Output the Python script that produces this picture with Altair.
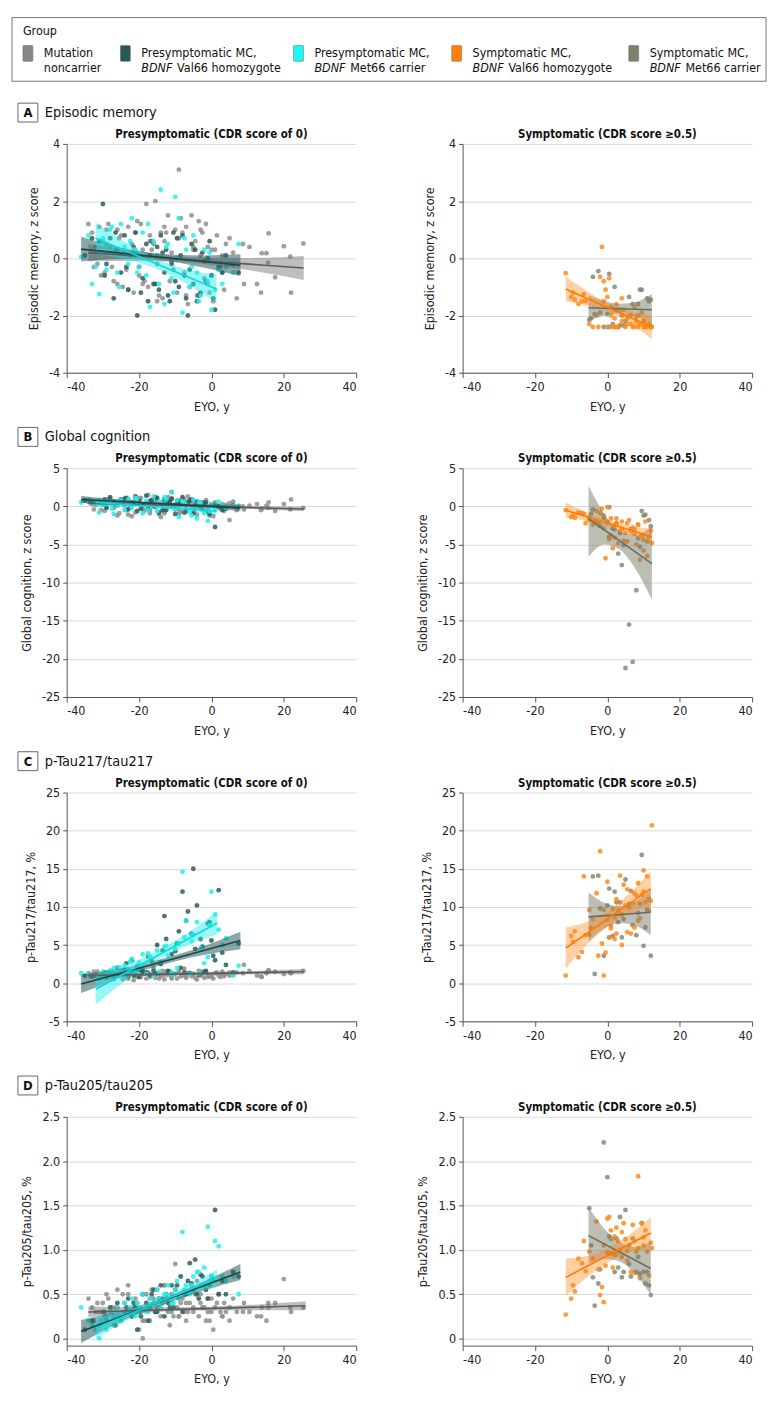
import altair as alt
import pandas as pd

FONT = "Liberation Sans Narrow, DejaVu Sans Condensed, Roboto Condensed, Arial Narrow, Roboto, sans-serif"

# ---------------- data: EYO (x) per group ----------------
NC_X = [-34, -33, -32.5, -31, -30, -29.5, -29, -28, -27, -26.5,
        -26, -25, -24, -23.5, -23, -22, -21.5, -21, -20, -19.5,
        -19, -18, -17.5, -17, -16, -15.5, -15, -14, -13.5, -13,
        -12, -11.5, -11, -10, -9.5, -9, -8, -7.5, -7, -6,
        -5.5, -5, -4, -3.5, -3, -2, -1.5, -1, 0, 0.5,
        1, 2, 3, 3.5, 4, 5, 6, 8.7, 9, 12.6,
        13.9, 15.2, 15.7, 13.7, 15.8, 17.6, 20, 21.8, 25.4, 22]
NC_X2 = [-32, -30.5, -28.5, -27.5, -25.5, -24.5, -22.5, -20.5, -18.5, -16.5,
         -14.5, -12.5, -10.5, -8.5, -6.5, -4.5, -2.5, -0.5, 1.5, 2.5,
         -31.5, -29, -26, -23, -21, -19, -17, -15, -13, -11,
         -9, -7, -5, -3, -1, 0, 3, 5, 7, 10.5]
VAL_X = [-35, -31, -30, -29, -28, -27, -26, -25, -24, -23,
         -22, -21, -20.5, -20, -19, -18, -17.5, -17, -16, -15,
         -14.5, -14, -13, -12.5, -12, -11, -10.5, -10, -9, -8.5,
         -8, -7, -6.5, -6, -5, -4.5, -4, -3, -2, -1,
         0, 1, 2, 3, 6]
VAL_X2 = [-33, -29.5, -26.5, -23.5, -21.5, -19.5, -16.5, -15.5, -13.5, -11.5,
          -9.5, -7.5, -5.5, -3.5, -2.5, -1.5, -0.5, 0.5, 4, 7.5]
MET_X = [-36, -33, -31, -30, -29, -28, -27, -26, -25, -24,
         -23, -22, -21, -20, -19, -18, -17, -16, -15, -14,
         -13, -12, -11, -10, -9.5, -9, -8, -7, -6, -5,
         -4, -3, -2, -1, 0, 1, 2, 4, 6, 7.5]
MET_X2 = [-34, -32, -27.5, -25.5, -22.5, -20.5, -17.5, -14.5, -12.5, -10.5, -7.5, -5.5, -3.5, -0.5, 3]
ORG_X = [-11.5, -10, -9, -8, -6.5, -6, -5, -3, -2.5, -2,
         -1.5, -1, -0.5, 0, 0, 0.5, 1, 1.5, 2, 2,
         2.5, 3, 3.5, 4, 4.5, 5, 5.5, 6, 6.5, 7,
         7.5, 8, 8.5, 9, 9.5, 10, 10.5, 11, 11.5, 12.3]
ORG_X2 = [-9.5, -7, -4, -1, 1, 2.5, 4, 5.5, 7.5, 8.5, 10, 12]
OLV_X = [-5, -4, -3.5, -2.5, -1, 0, 0.5, 1.5, 2, 3,
         3.5, 4, 5, 6, 7, 8, 9, 9.5, 10, 10.5, 11, 12]
OLV_X2 = [-4.5, -2, 0.5, 2.5, 4.5, 6.5, 8.5, 11.5]

# ---------------- A: episodic memory ----------------
A_NC = [1.2, 0.9, -0.3, 1.1, 0.6, -0.5, 1.0, 0.4, -0.8, 0.3,
        -0.9, 0.8, 0.2, -0.4, 1.1, 0.5, -1.2, 0.9, -0.6, 1.2,
        0.3, 1.9, -1.0, 0.8, 0.5, 2.0, -0.2, 0.9, -1.4, 0.6,
        1.5, -0.8, 0.2, 1.0, -1.2, 3.1, 0.9, -0.5, 1.1, -1.0,
        1.5, 0.3, -1.3, 1.3, 0.1, -0.7, 1.2, 0.4, -0.6, -1.5,
        0.3, -0.4, 0.1, -1.1, 0.5, -0.2, 0.2, 0.5, -0.9, -0.9,
        0.18, 0.18, -0.15, -1.2, 0.87, -0.66, 0.42, 0.06, 0.52, -1.2]
A_NC2 = [0.4, -0.6, 1.2, -0.3, 0.7, -1.0, 0.1, 1.3, -0.8, 0.3,
         -1.3, 0.9, -0.4, 1.4, -1.6, 0.6, 0.9, -1.2, 0.8, -0.3,
         -0.2, 0.5, 1.0, -1.1, 0.2, -0.9, 0.6, -1.5, 1.1, -0.1,
         0.7, -1.3, 0.4, 1.0, -0.9, 0.3, -0.5, 0.7, -1.4, 0.4]
A_VAL = [0.1, 0.6, 1.9, -0.2, 0.7, -1.4, 0.3, -0.5, 0.8, -1.1,
         0.2, 0.9, -2.0, -0.3, -0.7, 0.5, -1.5, 0.1, -0.9, 0.4,
         -1.1, 0.8, -0.5, 0.3, -1.3, -0.2, 0.9, -0.8, -1.0, 0.1,
         0.8, -1.4, -2.0, -0.4, -0.9, 0.3, -1.5, -1.2, -0.1, 0.0,
         -0.6, -1.8, -0.3, -0.5, -0.2]
A_VAL2 = [0.7, -0.6, 0.9, -0.3, 0.4, -1.2, 0.6, -0.9, 0.2, -1.5,
          0.7, -0.6, 0.5, -1.3, 0.2, -0.8, 0.6, -1.4, 0.1, -0.5]
A_MET = [0.05, -0.9, -1.25, 0.7, -0.4, 1.0, 0.2, -0.5, 1.2, 0.4,
         -0.2, 1.4, 0.3, -0.3, 0.9, -0.6, -1.7, 0.6, 0.1, 2.4,
         -1.6, 0.5, -0.7, 2.15, 0.0, 1.4, -1.9, 0.3, -1.0, 0.8,
         -0.5, -1.3, 0.3, -0.8, -1.8, -1.1, -0.4, -0.3, -0.5, 0.5]
A_MET2 = [0.8, -0.3, 1.1, -1.0, 0.6, -0.5, 1.2, -0.9, 0.4, -1.2, 0.7, -0.3, -1.5, 0.2, -0.9]
A_ORG = [-0.52, -1.35, -1.45, -1.6, -1.25, -1.5, -2.3, -2.0, -2.4, -0.65,
         0.4, -0.8, -1.1, -1.35, -2.4, -0.7, -1.7, -2.4, -2.1, -2.4,
         -1.6, -2.4, -1.8, -2.2, -1.8, -2.4, -2.1, -2.0, -2.3, -2.4,
         -1.7, -2.2, -2.4, -2.3, -1.9, -2.4, -2.35, -2.4, -2.3, -2.4]
A_ORG2 = [-1.2, -1.5, -2.4, -1.5, -2.0, -2.4, -1.4, -2.3, -2.4, -2.0, -2.2, -2.4]
A_OLV = [-2.15, -0.65, -1.95, -0.45, -2.4, -1.95, -0.55, -2.3, -1.0, -2.4,
         -2.35, -2.0, -2.2, -1.35, -1.6, -2.05, -1.1, -1.1, -2.2, -2.4, -1.4, -1.45]
A_OLV2 = [-2.1, -1.9, -2.4, -1.8, -2.35, -2.0, -1.6, -1.5]

# ---------------- B: global cognition ----------------
B_NC = [0.6, 0.3, -0.4, 0.8, 0.2, -0.6, 0.5, 1.0, -0.2, 0.4,
        -1.2, 0.7, 0.1, -0.5, 0.9, -1.3, 0.3, -0.8, 0.6, 1.1,
        -0.3, 0.2, 1.5, -0.9, 0.4, -0.1, 0.8, -1.4, 0.5, -0.6,
        1.2, 0.0, 1.9, -0.4, 0.7, -1.0, 0.3, 0.9, -0.7, 0.5,
        -0.2, 0.6, -1.1, 0.4, 0.1, -0.5, 0.8, -0.3, 0.2, -1.3,
        0.5, -0.1, 0.3, -0.6, 0.2, -1.8, 0.6, 0.0, -0.4, 0.3,
        -0.3, 0.1, -0.2, -0.5, 0.5, -0.6, 0.3, -0.4, -0.2, 0.9]
B_NC2 = [0.2, -0.5, 0.9, 0.4, -0.9, 0.6, -0.2, 1.1, -0.6, 0.3,
         -1.0, 0.7, 0.1, -0.7, 1.3, -0.4, 0.5, -1.2, 0.2, -0.3,
         0.7, -0.1, 0.4, -1.1, 0.9, 0.2, -0.5, 0.6, -0.9, 1.0,
         -0.4, 0.3, -0.8, 0.5, -0.6, 0.2, -0.3, 0.4, -0.5, 0.1]
B_VAL = [0.8, 0.5, 0.3, -0.2, 1.2, 0.6, 0.1, 0.9, 1.0, -0.4,
         0.5, 1.3, -0.6, 0.8, 0.2, 1.4, -0.3, 0.7, 0.0, 1.1,
         -0.8, 0.4, 0.9, -0.5, 0.6, 1.0, 0.2, -1.0, 0.7, 0.3,
         1.2, -0.4, 0.5, 0.8, -0.9, 0.1, 0.6, -0.2, 0.4, -0.7,
         0.3, -2.7, 0.0, -0.5, 0.1]
B_VAL2 = [0.6, 0.9, 0.2, 1.1, 0.4, -0.3, 0.8, 1.2, -0.5, 0.6,
          0.3, -0.8, 0.9, 0.1, -0.4, 0.5, -1.0, 0.2, -0.3, 0.0]
B_MET = [0.5, 0.3, -0.8, 0.2, 0.4, 0.6, -1.0, 0.1, 0.8, -0.5,
         0.9, -0.2, 1.1, 0.3, -0.9, 0.7, 0.2, 1.3, -0.6, 0.5,
         1.2, 0.0, 1.8, -0.3, 0.8, -1.4, 0.6, 0.2, -0.7, 0.9,
         -1.6, 0.4, -0.9, -1.9, 0.3, -0.5, 0.6, -0.2, 0.0, 0.1]
B_MET2 = [0.9, 0.4, -0.3, 0.8, 0.2, 1.0, -0.5, 0.6, 0.9, -0.2, 0.4, -1.2, 0.5, -0.6, 0.1]
B_ORG = [-0.5, -1.4, -1.5, -0.8, -1.0, -2.2, -1.8, -0.6, -2.4, -0.9,
         -0.3, -1.2, -6.8, -2.0, -0.1, -4.3, -1.6, -5.5, -2.5, -4.1,
         -2.3, -4.8, -3.2, -2.0, -4.5, -3.5, -2.2, -1.8, -3.3, -2.8,
         -3.0, -5.0, -2.4, -7.0, -3.8, -4.4, -2.0, -6.5, -4.0, -4.8]
B_ORG2 = [-1.2, -0.9, -2.4, -2.9, -3.8, -1.6, -3.0, -4.6, -3.6, -2.4, -5.8, -3.2]
B_OLV = [-1.5, -0.4, -2.0, -2.2, -1.5, -2.1, -0.1, -2.9, -3.0, -6.2,
         -3.5, -7.7, -21.2, -15.5, -20.4, -11.0, -5.3, -0.6, -1.2, -1.1, -4.6, -2.6]
B_OLV2 = [-1.0, -2.6, -4.0, -2.2, -5.1, -3.0, -4.2, -1.8]

# ---------------- C: p-Tau217/tau217 ----------------
C_NC = [1.3, 0.9, 1.5, 0.6, 1.1, 1.4, 0.8, 1.6, 0.5, 1.2,
        1.0, 1.7, 0.7, 1.3, 0.9, 1.5, 0.4, 1.1, 1.8, 0.8,
        1.2, 0.6, 1.4, 1.0, 2.0, 0.7, 1.3, 0.9, 1.6, 0.5,
        1.1, 1.4, 0.8, 1.2, 0.6, 1.5, 1.0, 1.9, 0.7, 1.3,
        0.9, 1.2, 0.5, 1.6, 1.0, 0.7, 1.4, 1.1, 0.8, 0.6,
        1.3, 1.0, 1.5, 0.9, 1.2, 1.4, 1.1, 1.3, 2.4, 1.0,
        0.8, 1.3, 1.6, 0.9, 1.7, 1.5, 1.2, 1.4, 1.6, 1.3]
C_NC2 = [1.1, 0.7, 1.4, 0.9, 1.2, 0.5, 1.6, 0.8, 1.3, 1.0,
         0.6, 1.5, 1.1, 0.9, 1.3, 0.7, 1.2, 1.0, 1.4, 0.8,
         1.5, 0.9, 1.2, 0.6, 1.0, 1.7, 0.8, 1.3, 1.1, 0.6,
         1.4, 0.9, 1.2, 1.5, 0.8, 1.1, 1.3, 1.0, 1.4, 1.6]
C_VAL = [1.0, 0.8, 1.2, 0.7, 1.5, 1.0, 2.0, 1.3, 1.8, 0.9,
         3.0, 1.2, 2.2, 0.8, 1.5, 1.4, 3.5, 1.1, 1.6, 5.0,
         1.3, 2.5, 8.8, 5.8, 1.6, 3.8, 1.2, 4.2, 6.8, 2.0,
         12.0, 8.2, 9.4, 1.3, 15.0, 4.5, 10.2, 5.8, 1.5, 7.8,
         5.6, 3.0, 12.2, 4.0, 1.4]
C_VAL2 = [0.9, 1.4, 1.1, 2.6, 1.0, 1.7, 2.9, 1.2, 4.3, 1.5,
          5.2, 1.4, 6.5, 1.1, 4.8, 1.6, 8.0, 3.6, 2.4, 5.2]
C_MET = [1.3, 1.0, 0.8, 1.5, 1.2, 1.6, 2.0, 1.1, 1.4, 2.3,
         1.8, 3.2, 1.5, 2.7, 3.8, 1.2, 3.5, 1.0, 4.3, 2.8,
         4.8, 3.6, 1.4, 4.5, 2.0, 5.2, 14.6, 8.2, 1.2, 6.4,
         8.0, 4.6, 2.6, 3.4, 12.0, 9.0, 7.0, 5.9, 1.0, 2.3]
C_MET2 = [1.2, 1.0, 1.6, 2.1, 2.8, 1.3, 3.9, 1.5, 4.9, 1.1, 6.0, 5.5, 1.3, 7.6, 5.0]
C_ORG = [1.0, 6.2, 6.8, 3.4, 14.0, 6.3, 9.6, 11.8, 3.6, 17.3,
         5.2, 1.0, 4.0, 13.3, 8.3, 6.0, 7.5, 9.7, 5.8, 8.6,
         6.5, 9.5, 14.1, 5.0, 12.9, 10.2, 12.3, 9.9, 6.5, 10.5,
         7.3, 11.5, 8.2, 8.5, 11.6, 14.8, 10.6, 14.0, 9.5, 20.7]
C_ORG2 = [5.4, 4.1, 8.4, 9.6, 7.2, 11.0, 9.0, 6.7, 11.8, 13.1, 12.0, 10.8]
C_OLV = [6.4, 14.0, 1.2, 14.1, 3.6, 10.2, 12.4, 6.2, 12.0, 8.0,
         10.6, 6.0, 13.6, 10.4, 7.6, 6.3, 10.4, 16.8, 4.9, 7.3, 9.6, 3.6]
C_OLV2 = [7.2, 9.8, 6.0, 10.6, 8.4, 12.1, 9.2, 11.0]

# ---------------- D: p-Tau205/tau205 ----------------
D_NC = [0.45, 0.35, 0.2, 0.3, 0.4, 0.25, 0.5, 0.3, 0.15, 0.35,
        0.55, 0.2, 0.4, 0.3, 0.6, 0.25, 0.35, 0.45, 0.1, 0.3,
        0.0, 0.5, 0.35, 0.2, 0.45, 0.3, 0.55, 0.25, 0.4, 0.6,
        0.3, 0.15, 0.5, 0.84, 0.35, 0.25, 0.45, 0.3, 0.2, 0.4,
        0.55, 0.3, 0.65, 0.25, 0.4, 0.35, 0.2, 0.45, 0.3, 0.1,
        0.35, 0.5, 0.25, 0.4, 0.3, 0.2, 0.45, 0.3, 0.4, 0.25,
        0.35, 0.2, 0.4, 0.25, 0.35, 0.4, 0.67, 0.35, 0.35, 0.3]
D_NC2 = [0.3, 0.2, 0.45, 0.35, 0.25, 0.5, 0.3, 0.4, 0.2, 0.55,
         0.35, 0.45, 0.25, 0.4, 0.3, 0.5, 0.35, 0.2, 0.4, 0.3,
         0.4, 0.25, 0.35, 0.5, 0.3, 0.2, 0.45, 0.35, 0.6, 0.3,
         0.25, 0.4, 0.35, 0.5, 0.3, 0.45, 0.25, 0.35, 0.3, 0.3]
D_VAL = [0.1, 0.15, 0.3, 0.2, 0.35, 0.25, 0.4, 0.2, 0.3, 0.45,
         0.25, 0.35, 0.1, 0.3, 0.5, 0.4, 0.2, 0.35, 0.55, 0.3,
         0.45, 0.6, 0.25, 0.5, 0.4, 0.6, 0.35, 0.55, 0.45, 0.7,
         0.3, 0.5, 0.65, 0.85, 0.55, 0.89, 0.5, 0.72, 0.6, 0.45,
         0.7, 1.45, 0.5, 0.65, 0.75]
D_VAL2 = [0.2, 0.3, 0.15, 0.35, 0.4, 0.25, 0.5, 0.3, 0.45, 0.35,
          0.6, 0.5, 0.62, 0.45, 0.7, 0.55, 0.6, 0.65, 0.5, 0.7]
D_MET = [0.35, 0.15, 0.0, 0.2, 0.1, 0.3, 0.25, 0.35, 0.2, 0.4,
         0.3, 0.45, 0.25, 0.35, 0.5, 0.3, 0.45, 0.4, 0.55, 0.35,
         0.5, 0.6, 0.4, 0.55, 0.65, 0.45, 1.2, 0.6, 0.5, 0.7,
         0.75, 0.6, 0.8, 1.26, 0.7, 1.1, 1.04, 0.65, 0.7, 0.5]
D_MET2 = [0.2, 0.1, 0.3, 0.25, 0.35, 0.4, 0.3, 0.45, 0.5, 0.4, 0.55, 0.6, 0.75, 0.65, 0.7]
D_ORG = [0.27, 0.45, 0.53, 0.9, 1.1, 0.76, 0.98, 1.32, 0.78, 0.49,
         0.58, 0.41, 0.82, 1.35, 0.97, 1.37, 1.22, 0.8, 1.15, 0.94,
         1.25, 1.1, 1.0, 0.92, 1.3, 1.12, 0.99, 1.05, 0.75, 1.28,
         0.74, 0.98, 1.83, 0.68, 1.3, 1.05, 1.22, 0.98, 0.71, 1.02]
D_ORG2 = [0.6, 0.85, 0.9, 1.05, 1.12, 0.95, 1.2, 0.88, 1.1, 1.02, 1.14, 1.08]
D_OLV = [1.47, 0.69, 0.37, 0.62, 2.21, 1.82, 1.15, 0.96, 0.75, 0.8,
         1.37, 0.69, 1.45, 0.84, 1.13, 0.75, 0.73, 1.3, 0.75, 0.62, 0.75, 0.49]
D_OLV2 = [1.05, 0.78, 0.96, 1.13, 0.75, 0.7, 0.92, 0.6]

# ---------------- fitted lines with 95% CI: (x, lower, upper, line y at both ends) ----------------
A_FIT_NC = ([-34, -19, -4, 11, 25.5], [-0.1, -0.09, -0.17, -0.43, -0.76], [0.5, 0.21, 0.03, 0.01, 0.08], [0.2, -0.34])
A_FIT_VAL = ([-36, -25, -14, -3, 8], [-0.11, -0.02, -0.08, -0.30, -0.62], [0.75, 0.38, 0.16, 0.10, 0.14], [0.32, -0.24])
A_FIT_MET = ([-32, -24, -15, -6, 1.4], [0.15, -0.02, -0.37, -0.95, -1.57], [1.25, 0.58, -0.03, -0.41, -0.57], [0.7, -1.07])
A_FIT_ORG = ([-11.5, -5.5, 0.5, 6.5, 12.3], [-1.5, -1.66, -1.89, -2.3, -2.82], [-0.64, -1.16, -1.59, -1.86, -1.98], [-1.07, -2.4])
A_FIT_OLV = ([-5.2, -0.8, 3.5, 7.9, 12.3], [-2.18, -2.0, -1.93, -2.03, -2.4], [-1.28, -1.5, -1.59, -1.53, -1.25], [-1.73, -1.8])

B_FIT_NC = ([-34, -19, -4, 11, 25.5], [0.1, 0.06, -0.1, -0.35, -0.65], [0.7, 0.36, 0.14, 0.01, -0.05], [0.4, -0.35])
B_FIT_VAL = ([-36, -25, -14, -3, 8], [0.45, 0.41, 0.2, -0.14, -0.6], [1.35, 0.85, 0.5, 0.3, 0.2], [0.9, -0.2])
B_FIT_MET = ([-32, -24, -15, -6, 1.4], [-0.1, -0.06, -0.24, -0.63, -1.15], [1.1, 0.54, 0.16, -0.03, -0.05], [0.5, -0.6])
B_FIT_ORG = ([-11.5, -5.5, 0.5, 6.5, 12.3], [-1.5, -1.93, -2.66, -3.7, -5.1], [0.5, -0.83, -1.86, -2.6, -2.9], [-0.5, -4.0])
B_FIT_OLV = ([-5.2, -0.8, 3.5, 7.9, 12.3], [-6.6, -5.0, -5.7, -8.3, -12.2], [2.7, -1.0, -3.3, -3.7, -2.6], [-1.6, -7.5])

C_FIT_NC = ([-34, -19, -4, 11, 25.5], [0.6, 0.93, 1.1, 1.18, 1.15], [1.4, 1.33, 1.4, 1.58, 1.85], [1.0, 1.5])
C_FIT_VAL = ([-36, -25, -14, -3, 8], [-1.3, 0.72, 2.35, 3.62, 4.45], [1.1, 1.92, 3.15, 4.72, 6.75], [-0.1, 5.6])
C_FIT_MET = ([-32, -23.6, -15.2, -6.8, 1.6], [-2.8, 0.38, 2.96, 4.94, 6.4], [1.2, 2.38, 4.16, 6.54, 9.4], [-0.8, 7.9])
C_FIT_ORG = ([-11.5, -5.6, 0.25, 6.1, 12], [1.9, 5.06, 7.5, 9.15, 10.1], [7.3, 8.06, 9.5, 11.75, 14.7], [4.6, 12.4])
C_FIT_OLV = ([-5.2, -0.9, 3.4, 7.7, 12], [5.5, 7.15, 7.9, 7.55, 6.3], [11.9, 10.55, 10.1, 10.75, 12.3], [8.7, 9.3])

D_FIT_NC = ([-34, -19, -4, 11, 26], [0.24, 0.29, 0.315, 0.32, 0.32], [0.36, 0.35, 0.355, 0.38, 0.42], [0.3, 0.37])
D_FIT_VAL = ([-36, -25, -14, -3, 8], [-0.05, 0.19, 0.37, 0.53, 0.66], [0.21, 0.31, 0.45, 0.63, 0.84], [0.08, 0.75])
D_FIT_MET = ([-32, -23.6, -15.2, -6.8, 1.6], [0.0, 0.2, 0.36, 0.49, 0.58], [0.24, 0.32, 0.44, 0.59, 0.78], [0.12, 0.68])
D_FIT_ORG = ([-11.5, -5.6, 0.25, 6.1, 12], [0.48, 0.69, 0.86, 0.97, 1.01], [0.9, 0.93, 1.02, 1.17, 1.37], [0.69, 1.19])
D_FIT_OLV = ([-5.2, -0.9, 3.4, 7.7, 12], [0.84, 0.9, 0.87, 0.73, 0.49], [1.48, 1.24, 1.09, 1.03, 1.09], [1.16, 0.79])

# ---------------- text ----------------
PANEL_LETTERS = ["A", "B", "C", "D"]
PANEL_NAMES = ["Episodic memory", "Global cognition", "p-Tau217/tau217", "p-Tau205/tau205"]
Y_TITLES = ["Episodic memory, z score", "Global cognition, z score", "p-Tau217/tau217, %", "p-Tau205/tau205, %"]
Y_DOMAINS = [[-4, 4], [-25, 5], [-5, 25], [-0.08, 2.5]]
Y_TICKS = [[-4, -2, 0, 2, 4], [-25, -20, -15, -10, -5, 0, 5], [-5, 0, 5, 10, 15, 20, 25], [0, 0.5, 1, 1.5, 2, 2.5]]
X_TICKS = [-40, -20, 0, 20, 40]
SUBTITLES = ["Presymptomatic (CDR score of 0)", "Symptomatic (CDR score \u22650.5)"]

GROUP_KEYS = ["NC", "VAL", "MET", "ORG", "OLV"]
LEG_LINE1 = ["Mutation", "Presymptomatic MC,", "Presymptomatic MC,", "Symptomatic MC,", "Symptomatic MC,"]
LEG_ITALIC = ["", "BDNF", "BDNF", "BDNF", "BDNF"]
LEG_REST = ["noncarrier", "Val66 homozygote", "Met66 carrier", "Val66 homozygote", "Met66 carrier"]

# ---------------- styles / layout ----------------
POINT_COLOR = {"NC": "#8e8e8e", "VAL": "#2c5d5d", "MET": "#22efef", "ORG": "#ff8a1c", "OLV": "#878975"}
SWATCH_COLOR = {"NC": "#878787", "VAL": "#2a5757", "MET": "#1ff5f5", "ORG": "#ff800a", "OLV": "#7e806b"}
BAND_COLOR = {"NC": "#6f6f6f", "VAL": "#2c5d5d", "MET": "#20eeee", "ORG": "#ff8a1c", "OLV": "#7a7c68"}
BAND_OPACITY = {"NC": 0.45, "VAL": 0.55, "MET": 0.45, "ORG": 0.4, "OLV": 0.5}
LINE_COLOR = {"NC": "#5c5c5c", "VAL": "#1d4545", "MET": "#0adada", "ORG": "#ff7a00", "OLV": "#6c6e5c"}
SWATCH_X = [-44, 54, 228, 387, 565]
LEG_FS = 12.5
ITALIC_W = 36

PW, PH = 291, 230

POINTS = {
    "A": {"NC": A_NC + A_NC2, "VAL": A_VAL + A_VAL2, "MET": A_MET + A_MET2, "ORG": A_ORG + A_ORG2, "OLV": A_OLV + A_OLV2},
    "B": {"NC": B_NC + B_NC2, "VAL": B_VAL + B_VAL2, "MET": B_MET + B_MET2, "ORG": B_ORG + B_ORG2, "OLV": B_OLV + B_OLV2},
    "C": {"NC": C_NC + C_NC2, "VAL": C_VAL + C_VAL2, "MET": C_MET + C_MET2, "ORG": C_ORG + C_ORG2, "OLV": C_OLV + C_OLV2},
    "D": {"NC": D_NC + D_NC2, "VAL": D_VAL + D_VAL2, "MET": D_MET + D_MET2, "ORG": D_ORG + D_ORG2, "OLV": D_OLV + D_OLV2},
}
FITS = {
    "A": {"NC": A_FIT_NC, "VAL": A_FIT_VAL, "MET": A_FIT_MET, "ORG": A_FIT_ORG, "OLV": A_FIT_OLV},
    "B": {"NC": B_FIT_NC, "VAL": B_FIT_VAL, "MET": B_FIT_MET, "ORG": B_FIT_ORG, "OLV": B_FIT_OLV},
    "C": {"NC": C_FIT_NC, "VAL": C_FIT_VAL, "MET": C_FIT_MET, "ORG": C_FIT_ORG, "OLV": C_FIT_OLV},
    "D": {"NC": D_FIT_NC, "VAL": D_FIT_VAL, "MET": D_FIT_MET, "ORG": D_FIT_ORG, "OLV": D_FIT_OLV},
}
X_OF = {"NC": NC_X + NC_X2, "VAL": VAL_X + VAL_X2, "MET": MET_X + MET_X2,
        "ORG": ORG_X + ORG_X2, "OLV": OLV_X + OLV_X2}

ONE = pd.DataFrame({"t": [""]})


def text_layer(txt, x, y, **kw):
    return alt.Chart(pd.DataFrame({"t": [txt]})).mark_text(font=FONT, **kw).encode(
        x=alt.value(x), y=alt.value(y), text="t:N")


def rect_layer(x1, x2, y1, y2, **kw):
    return alt.Chart(ONE).mark_rect(**kw).encode(
        x=alt.value(x1), x2=alt.value(x2), y=alt.value(y1), y2=alt.value(y2))


def legend_layers():
    top = -140  # legend sits above panel A
    out = [rect_layer(-55, 703, top + 13, top + 77, fill="white", stroke="#777", strokeWidth=1),
           text_layer("Group", -44, top + 27, fontSize=LEG_FS, align="left", baseline="middle", color="#111")]
    for j, k in enumerate(GROUP_KEYS):
        sx = SWATCH_X[j]
        out.append(rect_layer(sx, sx + 10, top + 41, top + 57, fill=SWATCH_COLOR[k],
                              stroke="#666", strokeWidth=0.5, cornerRadius=1))
        out.append(text_layer(LEG_LINE1[j], sx + 21, top + 49, fontSize=LEG_FS, align="left",
                              baseline="middle", color="#111"))
        if LEG_ITALIC[j]:
            out.append(text_layer(LEG_ITALIC[j], sx + 21, top + 64, fontSize=LEG_FS, fontStyle="italic",
                                  align="left", baseline="middle", color="#111"))
        out.append(text_layer(LEG_REST[j], sx + 21 + (ITALIC_W if LEG_ITALIC[j] else 0), top + 64,
                              fontSize=LEG_FS, align="left", baseline="middle", color="#111"))
    return out


def make_panel(i, side):
    letter = PANEL_LETTERS[i]
    keys = ["NC", "VAL", "MET"] if side == 0 else ["OLV", "ORG"]
    prow, brow, lrow = [], [], []
    for k in keys:
        for x, y in zip(X_OF[k], POINTS[letter][k]):
            prow.append({"x": x, "y": y, "pc": POINT_COLOR[k]})
        bx, lo, hi, ly = FITS[letter][k]
        for x, a, b in zip(bx, lo, hi):
            brow.append({"x": x, "y": a, "hi": b, "grp": k, "bc": BAND_COLOR[k], "bo": BAND_OPACITY[k]})
        lrow.append({"x": bx[0], "y": ly[0], "grp": k, "lc": LINE_COLOR[k]})
        lrow.append({"x": bx[-1], "y": ly[1], "grp": k, "lc": LINE_COLOR[k]})
    pts, bands, lines = pd.DataFrame(prow), pd.DataFrame(brow), pd.DataFrame(lrow)

    if letter == "D":
        yexpr = "datum.value == 0 ? '0' : format(datum.value, '.1f')"
    else:
        yexpr = "'' + datum.value"
    xs = alt.Scale(domain=[-40, 40], nice=False, zero=False)
    ys = alt.Scale(domain=Y_DOMAINS[i], nice=False, zero=False)
    xax = alt.Axis(values=X_TICKS, title="EYO, y", grid=False, labelExpr="'' + datum.value")
    yax = alt.Axis(values=Y_TICKS[i], title=Y_TITLES[i], grid=True, labelExpr=yexpr)
    xenc = alt.X("x:Q", scale=xs, axis=xax, title="EYO, y")
    yenc = alt.Y("y:Q", scale=ys, axis=yax, title=Y_TITLES[i])

    p = alt.Chart(pts).mark_circle(size=24, opacity=0.85).encode(
        x=xenc, y=yenc, color=alt.Color("pc:N", scale=None))
    b = alt.Chart(bands).mark_area(interpolate="monotone").encode(
        x=xenc,
        y=alt.Y("y:Q", scale=ys, axis=yax, title=Y_TITLES[i], stack=None),
        y2="hi:Q",
        color=alt.Color("bc:N", scale=None),
        opacity=alt.Opacity("bo:Q", scale=None),
        detail="grp:N")
    l = alt.Chart(lines).mark_line(strokeWidth=1.6).encode(
        x=xenc, y=yenc,
        color=alt.Color("lc:N", scale=None),
        detail="grp:N")
    layers = [p, b, l,
              text_layer(SUBTITLES[side], PW / 2, -9, fontSize=11.5, fontWeight="bold",
                         align="center", baseline="middle", color="#111")]
    if side == 0:
        layers += [rect_layer(-49, -29, -41, -22, fill="white", stroke="#666", strokeWidth=1),
                   text_layer(letter, -39, -31, fontSize=13, fontWeight="bold",
                              align="center", baseline="middle", color="#111"),
                   text_layer(PANEL_NAMES[i], -22, -31, fontSize=14.5,
                              align="left", baseline="middle", color="#111")]
        if i == 0:
            layers += legend_layers()
    return alt.layer(*layers).properties(width=PW, height=PH)


cells = []
for i in range(4):
    cells.append(make_panel(i, 0))
    cells.append(make_panel(i, 1))

chart = alt.concat(*cells, columns=2, spacing={"row": 96, "column": 107}, bounds="flush").properties(
    padding={"left": 3, "top": 5, "right": 5, "bottom": 5}
).configure_view(stroke=None).configure_axis(
    labelFont=FONT, titleFont=FONT, labelFontSize=12.5, titleFontSize=12.5,
    titleFontWeight="normal", labelColor="#222", titleColor="#222",
    domainColor="#555", tickColor="#555", gridColor="#dadada"
).configure_axisX(tickSize=5, labelPadding=3, titlePadding=7).configure_axisY(
    tickSize=4, labelPadding=3, titlePadding=8)

chart.save("out.html", embed_options={"renderer": "svg", "actions": False})
